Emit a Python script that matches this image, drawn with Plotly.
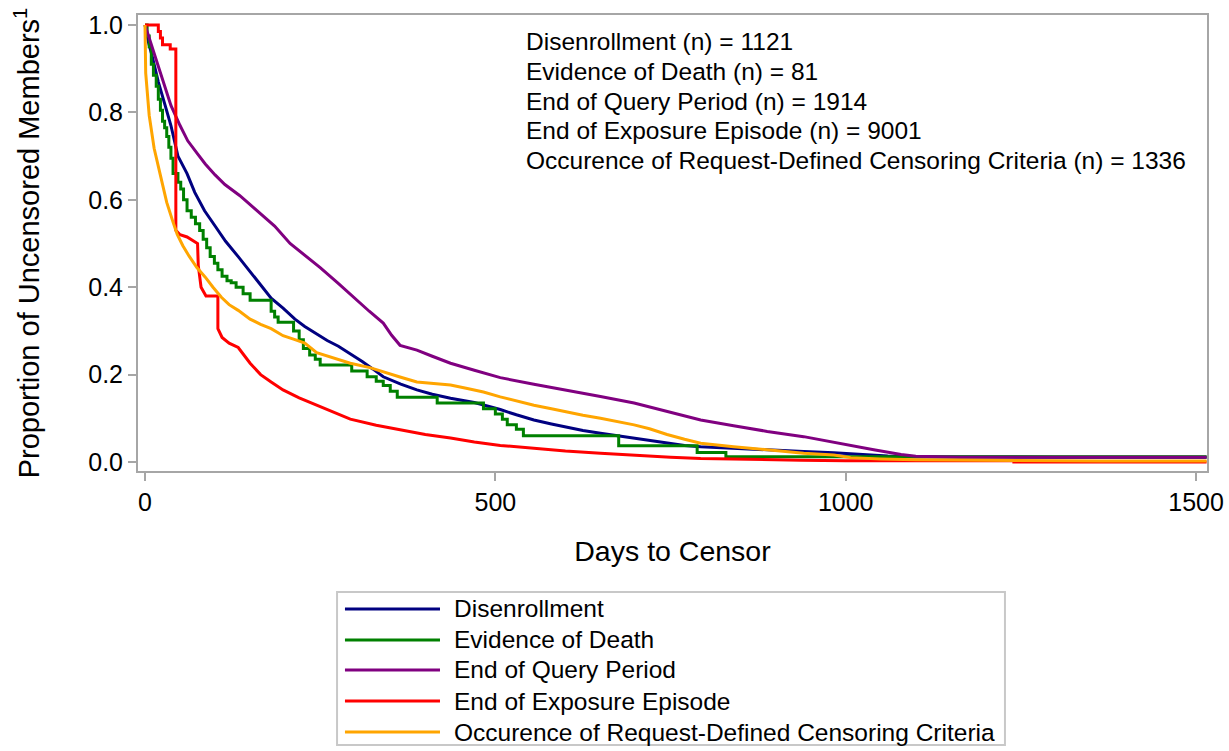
import plotly.graph_objects as go

# ---------------- data ----------------
series_names = [
    "Disenrollment",
    "Evidence of Death",
    "End of Query Period",
    "End of Exposure Episode",
    "Occurence of Request-Defined Censoring Criteria",
]
series_n = [1121, 81, 1914, 9001, 1336]
series_colors = ["#000080", "#008000", "#800080", "#FF0000", "#FFA500"]

disenroll_days = [0, 5, 10, 19, 28, 37, 47, 60, 71, 85, 100, 115, 133, 150, 165, 180, 197, 214,
                  228, 245, 260, 276, 293, 310, 325, 340, 365, 388, 410, 436, 470, 507, 530, 555,
                  580, 602, 625, 650, 675, 698, 720, 745, 770, 793, 840, 888, 940, 983, 1020, 1060,
                  1100, 1200, 1300, 1400, 1515]
disenroll_vals = [1.0, 0.96, 0.93, 0.87, 0.82, 0.77, 0.70, 0.66, 0.617, 0.575, 0.54, 0.505, 0.47,
                  0.435, 0.405, 0.375, 0.352, 0.327, 0.31, 0.292, 0.278, 0.265, 0.248, 0.23,
                  0.213, 0.195, 0.178, 0.165, 0.155, 0.146, 0.136, 0.12, 0.108, 0.096, 0.087,
                  0.079, 0.072, 0.066, 0.060, 0.055, 0.049, 0.043, 0.038, 0.035, 0.031, 0.027,
                  0.024, 0.021, 0.017, 0.014, 0.012, 0.011, 0.011, 0.011, 0.011]

death_days = [0, 3, 6, 9, 12, 16, 19, 22, 25, 28, 31, 34, 37, 40, 47, 51, 55, 60, 66, 72, 78, 83,
              88, 93, 99, 104, 110, 117, 123, 130, 140, 150, 180, 185, 190, 212, 220, 226, 235,
              243, 250, 295, 317, 330, 340, 350, 360, 417, 483, 500, 510, 517, 530, 540, 676, 788,
              829, 1515]
death_vals = [1.0, 0.975, 0.95, 0.91, 0.885, 0.86, 0.83, 0.805, 0.78, 0.765, 0.745, 0.72, 0.695,
              0.66, 0.64, 0.625, 0.6, 0.575, 0.56, 0.545, 0.53, 0.51, 0.49, 0.47, 0.455, 0.44,
              0.425, 0.415, 0.41, 0.4, 0.385, 0.37, 0.345, 0.332, 0.32, 0.30, 0.28, 0.26, 0.245,
              0.235, 0.222, 0.208, 0.195, 0.185, 0.175, 0.162, 0.148, 0.135, 0.122, 0.11, 0.098,
              0.085, 0.075, 0.06, 0.037, 0.022, 0.012, 0.012]

query_days = [0, 10, 19, 28, 37, 50, 61, 75, 86, 100, 114, 135, 160, 185, 207, 230, 250, 275,
              302, 320, 340, 352, 364, 388, 410, 436, 470, 507, 555, 602, 650, 698, 745, 793, 840,
              888, 940, 983, 1007, 1040, 1079, 1100, 1164, 1300, 1400, 1515]
query_vals = [1.0, 0.95, 0.907, 0.86, 0.816, 0.77, 0.735, 0.705, 0.682, 0.657, 0.635, 0.61,
              0.576, 0.54, 0.50, 0.47, 0.445, 0.41, 0.37, 0.345, 0.318, 0.29, 0.267, 0.256,
              0.242, 0.226, 0.21, 0.193, 0.178, 0.165, 0.15, 0.135, 0.116, 0.096, 0.083, 0.07,
              0.058, 0.045, 0.037, 0.028, 0.017, 0.013, 0.011, 0.011, 0.011, 0.011]

exposure_days = [0, 19, 19, 22, 22, 25, 25, 36, 36, 44, 44, 50, 60, 75, 76, 80, 87, 104, 104,
                 110, 120, 133, 150, 165, 180, 197, 220, 245, 270, 293, 330, 364, 400, 436, 470,
                 507, 560, 600, 650, 700, 750, 793, 850, 936, 1000, 1240, 1240, 1515]
exposure_vals = [1.0, 1.0, 0.985, 0.985, 0.97, 0.97, 0.955, 0.955, 0.945, 0.945, 0.53, 0.52,
                 0.515, 0.5, 0.45, 0.40, 0.38, 0.38, 0.305, 0.285, 0.272, 0.262, 0.226, 0.2,
                 0.183, 0.165, 0.147, 0.13, 0.112, 0.098, 0.084, 0.073, 0.063, 0.055, 0.046,
                 0.038, 0.03, 0.025, 0.02, 0.015, 0.011, 0.008, 0.006, 0.004, 0.003, 0.003,
                 0.0, 0.0]

request_days = [0, 1, 6, 13, 22, 31, 40, 46, 54, 63, 74, 86, 97, 109, 120, 133, 150, 165, 180,
                197, 214, 228, 245, 270, 293, 321, 340, 365, 388, 410, 436, 460, 483, 507, 530,
                555, 580, 602, 625, 650, 675, 698, 720, 745, 770, 793, 840, 888, 940, 983, 1007,
                1050, 1100, 1200, 1364, 1515]
request_vals = [1.0, 0.89, 0.793, 0.718, 0.656, 0.594, 0.549, 0.521, 0.495, 0.471, 0.445, 0.423,
                0.40, 0.377, 0.36, 0.347, 0.327, 0.315, 0.305, 0.289, 0.28, 0.272, 0.25, 0.237,
                0.226, 0.216, 0.206, 0.194, 0.183, 0.18, 0.176, 0.168, 0.16, 0.149, 0.14, 0.13,
                0.122, 0.114, 0.107, 0.10, 0.093, 0.085, 0.076, 0.063, 0.052, 0.043, 0.035,
                0.027, 0.02, 0.016, 0.01, 0.007, 0.005, 0.004, 0.002, 0.002]

series_days = [disenroll_days, death_days, query_days, exposure_days, request_days]
series_vals = [disenroll_vals, death_vals, query_vals, exposure_vals, request_vals]
series_shapes = ["linear", "hv", "linear", "linear", "linear"]

x_ticks = [0, 500, 1000, 1500]
y_ticks = [0.0, 0.2, 0.4, 0.6, 0.8, 1.0]

# ---------------- figure ----------------
FONT = "Liberation Sans, Arial, sans-serif"
AXIS_GREY = "#A6A6A6"
TEXT_SIZE = 24.5

fig = go.Figure()
for name, d, v, c, s in zip(series_names, series_days, series_vals, series_colors, series_shapes):
    fig.add_trace(go.Scatter(x=d, y=v, mode="lines", name=name, showlegend=False,
                             line=dict(color=c, width=3, shape=s)))

# count annotations (upper right, left-aligned lines)
count_y = [0.9408, 0.8761, 0.8114, 0.7467, 0.6820]
for name, n, yy in zip(series_names, series_n, count_y):
    fig.add_annotation(text=f"{name} (n) = {n}", xref="paper", yref="paper",
                       x=0.3612, y=yy, xanchor="left", yanchor="middle", showarrow=False,
                       font=dict(family=FONT, size=TEXT_SIZE, color="black"))

# legend box below the plot (line sample + label per series)
legend_box = dict(x0=0.1862, x1=0.8110, y0=-0.6009, y1=-0.2654)
legend_item_y = [-0.3026, -0.3706, -0.4364, -0.5044, -0.5724]
fig.add_shape(type="rect", xref="paper", yref="paper", **legend_box,
              line=dict(color="#C8C8C8", width=2), fillcolor="white", layer="below")
for name, c, yy in zip(series_names, series_colors, legend_item_y):
    fig.add_shape(type="line", xref="paper", yref="paper", x0=0.1936, x1=0.2825, y0=yy, y1=yy,
                  line=dict(color=c, width=3))
    fig.add_annotation(text=name, xref="paper", yref="paper", x=0.2935, y=yy,
                       xanchor="left", yanchor="middle", showarrow=False,
                       font=dict(family=FONT, size=TEXT_SIZE, color="black"))

fig.update_layout(
    width=1229, height=751,
    margin=dict(l=138, r=22, t=15, b=280, autoexpand=False),
    paper_bgcolor="white", plot_bgcolor="white",
    font=dict(family=FONT, color="black"),
    showlegend=False,
)
fig.update_xaxes(range=[-10, 1515.6], tickvals=x_ticks, ticks="outside", ticklen=8,
                 tickwidth=2, tickcolor=AXIS_GREY, showline=True, linecolor=AXIS_GREY,
                 linewidth=2, mirror=True, showgrid=False, zeroline=False,
                 tickfont=dict(family=FONT, size=25, color="black"),
                 title=dict(text="Days to Censor", font=dict(family=FONT, size=28.5, color="black"),
                            standoff=26))
fig.update_yaxes(range=[-0.0206, 1.0229], tickvals=y_ticks, tickformat=".1f", ticks="outside",
                 ticklen=8, tickwidth=2, tickcolor=AXIS_GREY, showline=True,
                 linecolor=AXIS_GREY, linewidth=2, mirror=True, showgrid=False, zeroline=False,
                 tickfont=dict(family=FONT, size=25, color="black"),
                 title=dict(text="Proportion of Uncensored Members<sup>1</sup>",
                            font=dict(family=FONT, size=29, color="black"), standoff=40))

fig.write_html("out.html", config={"displayModeBar": False},
               post_script="document.body.style.margin='0';")
